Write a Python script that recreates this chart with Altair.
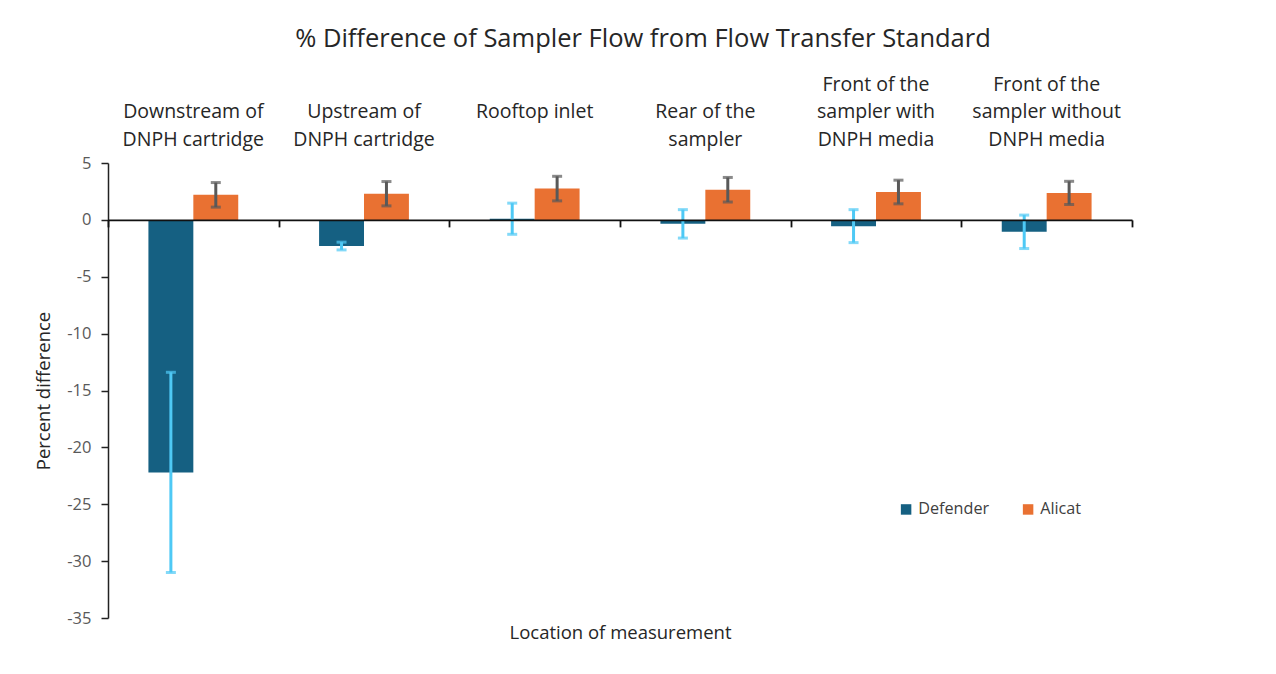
import altair as alt
import pandas as pd

categories = [
    "Downstream of\nDNPH cartridge",
    "Upstream of\nDNPH cartridge",
    "Rooftop inlet",
    "Rear of the\nsampler",
    "Front of the\nsampler with\nDNPH media",
    "Front of the\nsampler without\nDNPH media",
]
series = ["Defender", "Alicat"]
defender_values = [-22.2, -2.3, 0.1, -0.35, -0.55, -1.05]
defender_errors = [8.8, 0.34, 1.37, 1.25, 1.45, 1.47]
alicat_values = [2.2, 2.3, 2.75, 2.65, 2.45, 2.37]
alicat_errors = [1.08, 1.07, 1.08, 1.08, 1.04, 1.02]

rows = []
for c, v, e in zip(categories, defender_values, defender_errors):
    rows.append({"cat": c, "series": "Defender", "value": v, "lo": v - e, "hi": v + e})
for c, v, e in zip(categories, alicat_values, alicat_errors):
    rows.append({"cat": c, "series": "Alicat", "value": v, "lo": v - e, "hi": v + e})
df = pd.DataFrame(rows)

W, H = 1024, 455
FONT = "Open Sans"
Y_MIN, Y_MAX = -35, 5
zero_offset = -H * (0 - Y_MIN) / (Y_MAX - Y_MIN)

# pad every label to three lines so that they are bottom-aligned
label_expr = (
    "split((length(split(datum.label, '\\n')) == 1 ? '\\n\\n' : "
    "(length(split(datum.label, '\\n')) == 2 ? '\\n' : '')) + datum.label, '\\n')"
)

xscale = alt.Scale(domain=categories, paddingInner=0, paddingOuter=0)
xoff = alt.XOffset("series:N", sort=series, scale=alt.Scale(domain=series, paddingInner=0, paddingOuter=0.9))
yscale = alt.Scale(domain=[Y_MIN, Y_MAX], nice=False, zero=False)

base = alt.Chart(df)

bars = base.mark_bar().encode(
    x=alt.X("cat:N", sort=categories, scale=xscale,
            axis=alt.Axis(orient="top", domain=False, ticks=False, title=None,
                          labelAngle=0, labelExpr=label_expr, labelBaseline="bottom",
                          labelFontSize=19.5, labelLineHeight=27.5, labelPadding=69,
                          labelColor="#262626", labelFont=FONT)),
    xOffset=xoff,
    y=alt.Y("value:Q", scale=yscale,
            axis=alt.Axis(values=list(range(-35, 6, 5)), grid=False, domainColor="#222",
                          domainWidth=1.5, tickColor="#222", tickWidth=1.5, tickSize=7,
                          labelPadding=10, labelFontSize=16.5, labelColor="#595959",
                          labelFont=FONT, labelExpr="datum.value + ''",
                          title="Percent difference", titleFontSize=18.5,
                          titleFontWeight="normal", titleColor="#262626", titleFont=FONT,
                          titlePadding=13)),
    color=alt.Color("series:N", sort=series,
                    scale=alt.Scale(domain=series, range=["#156082", "#E97132"]),
                    legend=alt.Legend(title=None, orient="none", legendX=790, legendY=338,
                                      direction="horizontal", symbolType="square",
                                      symbolSize=110, symbolStrokeWidth=0,
                                      labelFontSize=16.2, labelColor="#404040",
                                      labelFont=FONT, columnPadding=30)),
)

err_color = alt.condition(alt.datum.series == "Defender", alt.value("#4EC9F5"), alt.value("#595959"))

rules = base.mark_rule(strokeWidth=3).encode(
    x=alt.X("cat:N", sort=categories, scale=xscale,
            axis=alt.Axis(orient="bottom", offset=zero_offset, labels=False,
                          domainColor="#111", domainWidth=1.8, tickColor="#111",
                          tickWidth=1.8, tickSize=7, bandPosition=0, tickBand="extent",
                          zindex=2, title="Location of measurement", titleFontSize=18.5,
                          titleFontWeight="normal", titleColor="#262626", titleFont=FONT,
                          titleY=-zero_offset + 5, titleBaseline="top")),
    xOffset=xoff,
    y=alt.Y("lo:Q", scale=yscale),
    y2="hi:Q",
    color=err_color,
)

caps_lo = base.mark_tick(thickness=3, size=10, orient="horizontal").encode(
    x=alt.X("cat:N", sort=categories, scale=xscale, axis=None),
    xOffset=xoff,
    y=alt.Y("lo:Q", scale=yscale),
    color=err_color,
)
caps_hi = base.mark_tick(thickness=3, size=10, orient="horizontal").encode(
    x=alt.X("cat:N", sort=categories, scale=xscale, axis=None),
    xOffset=xoff,
    y=alt.Y("hi:Q", scale=yscale),
    color=err_color,
)

chart = alt.layer(bars, rules, caps_lo, caps_hi).resolve_axis(x="independent").properties(
    width=W, height=H,
    background="white",
    autosize=alt.AutoSizeParams(type="none"),
    padding={"left": 100, "top": 155, "right": 120, "bottom": 45},
    title=alt.TitleParams("% Difference of Sampler Flow from Flow Transfer Standard",
                          fontSize=25.5, fontWeight="normal", color="#262626", font=FONT,
                          anchor="middle", dx=23, offset=22),
).configure_view(strokeWidth=0, stroke="transparent")

chart.save("out.html", embed_options={"renderer": "svg", "actions": False})
